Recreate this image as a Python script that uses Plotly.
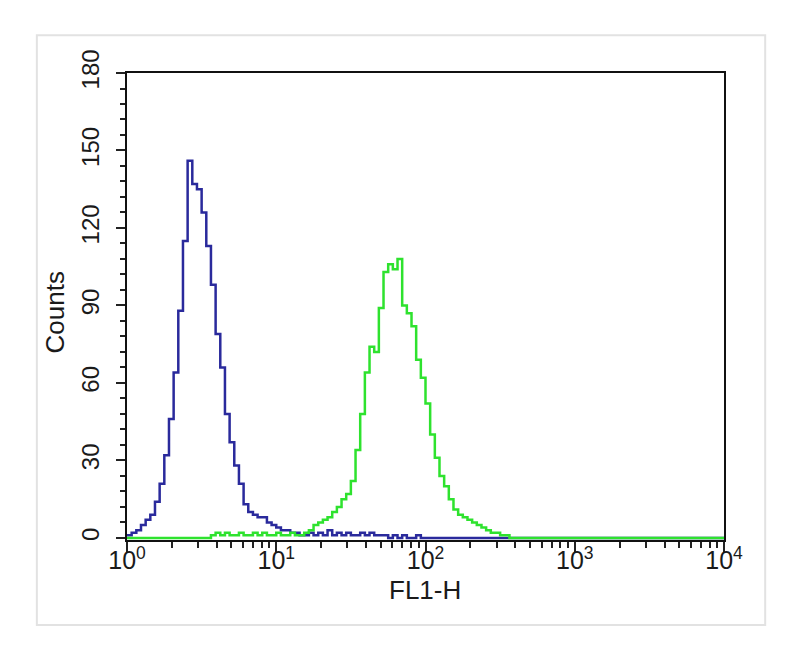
import plotly.graph_objects as go

# FL1-H histogram: 128 log-spaced channels spanning 10^0 .. 10^4
n_channels = 128
decades = 4
channel_edges = [10 ** (i * decades / n_channels) for i in range(n_channels + 1)]

blue_counts = [1, 2, 3, 5, 7, 9, 14, 21, 32, 46, 64, 88, 115, 146, 137, 135, 126, 113, 98, 79,
               66, 48, 37, 28, 21, 13, 10, 9, 8, 8, 6, 5, 4, 3, 3, 2, 2,
               1, 1, 2, 1, 2, 1, 3, 1, 2, 1, 2, 1, 1, 2, 1, 2, 1, 1, 1, 0, 1, 0, 1, 0, 0, 1, 0] + [0] * 64

green_counts = [0] * 18 + [1, 2, 1, 2, 1, 1, 2, 1, 1, 2, 1, 2, 1, 1, 2, 1, 1, 2, 1] + \
               [1, 2, 3, 5, 6, 7, 8, 10, 12, 15, 17, 22, 34, 48, 64, 74, 72, 89, 103, 106,
                104, 108, 90, 87, 82, 69, 62, 52, 40, 31, 24, 20, 15, 11, 9, 8, 7, 6, 5, 4,
                3, 2, 2, 1, 1] + [0] * 46

x_tickvals = [1, 10, 100, 1000, 10000]
x_ticktext = ["10<sup>0</sup>", "10<sup>1</sup>", "10<sup>2</sup>", "10<sup>3</sup>", "10<sup>4</sup>"]
y_tickvals = [0, 30, 60, 90, 120, 150, 180]
x_title = "FL1-H"
y_title = "Counts"

fig = go.Figure()
fig.add_trace(go.Scatter(x=channel_edges, y=blue_counts + [blue_counts[-1]], mode="lines",
                         line=dict(color="#2a2a9c", width=2.5, shape="hv"), showlegend=False))
fig.add_trace(go.Scatter(x=channel_edges, y=green_counts + [green_counts[-1]], mode="lines",
                         line=dict(color="#2ee22e", width=2.5, shape="hv"), showlegend=False))

font = "Liberation Sans, Arial, sans-serif"
fig.update_layout(
    width=792, height=648,
    margin=dict(l=119, r=76, t=65, b=116),
    paper_bgcolor="white", plot_bgcolor="white",
    font=dict(family=font, color="#1a1a1a"),
    xaxis=dict(type="log", range=[0, 4], tickvals=x_tickvals, ticktext=x_ticktext,
               ticks="outside", ticklen=10, tickwidth=2, tickcolor="#222", ticklabelstandoff=-13,
               showline=True, linecolor="#111", linewidth=2, mirror=True,
               showgrid=False, zeroline=False, tickfont=dict(size=25),
               minor=dict(ticks="outside", ticklen=6, tickwidth=2, tickcolor="#222", dtick="D1", showgrid=False)),
    yaxis=dict(range=[-0.8, 180], tickvals=y_tickvals, ticks="outside", ticklen=9, tickwidth=2,
               tickcolor="#222", tickangle=-90, ticklabelstandoff=7,
               showline=True, linecolor="#111", linewidth=2, mirror=True,
               showgrid=False, zeroline=False, tickfont=dict(size=24),
               minor=dict(ticks="outside", ticklen=5, tickwidth=2, tickcolor="#222", dtick=6, showgrid=False)),
    annotations=[
        dict(text=x_title, xref="paper", yref="paper", x=0.499, y=-0.108, xanchor="center", yanchor="middle",
             showarrow=False, font=dict(size=26)),
        dict(text=y_title, xref="paper", yref="paper", x=-0.12, y=0.488, xanchor="center", yanchor="middle",
             textangle=-90, showarrow=False, font=dict(size=26)),
    ],
    shapes=[dict(type="rect", xref="paper", yref="paper", x0=-0.151, x1=1.069, y0=-0.182, y1=1.081,
                 line=dict(color="#e2e2e2", width=2), layer="below")],
)

fig.write_html("out.html")
